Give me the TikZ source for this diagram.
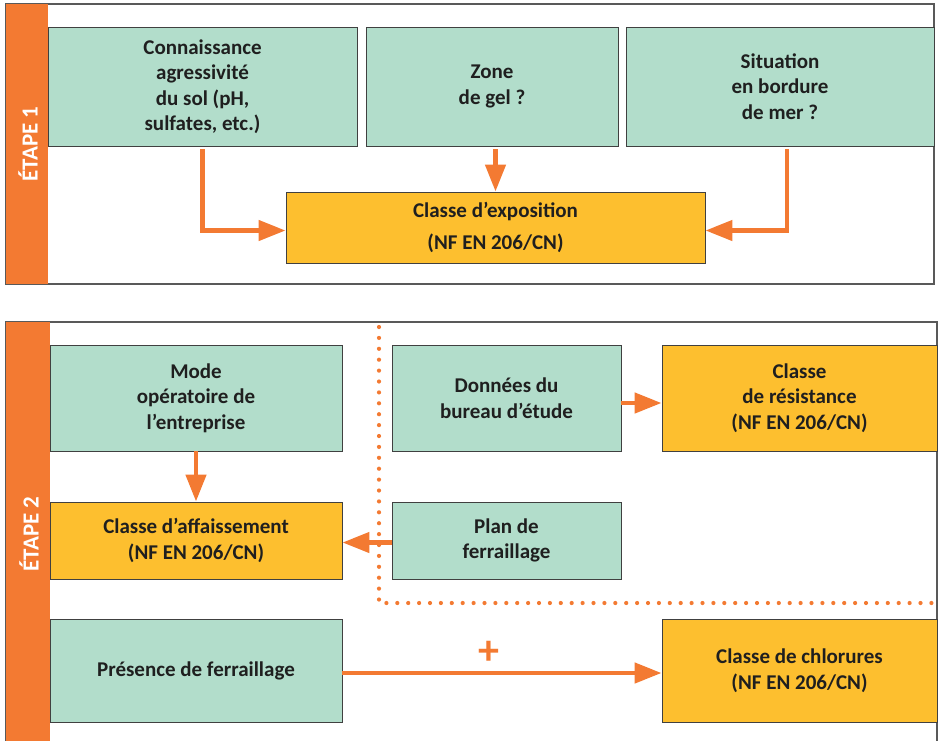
\documentclass[tikz,border=0pt]{standalone}
\usepackage{fontspec}
\setmainfont{Carlito}
\usetikzlibrary{arrows.meta}
\definecolor{orangeb}{HTML}{F37A32}
\definecolor{vertclair}{HTML}{B2DDCB}
\definecolor{jaune}{HTML}{FDBF2F}
\tikzstyle{cadre} = [draw=black!65, line width=1.3pt]
\tikzstyle{donnee} = [rectangle, draw=black!75, line width=0.9pt, fill=vertclair, align=center, text=black!88, inner sep=0pt, font=\bfseries\fontsize{21}{25.5}\selectfont]
\tikzstyle{classe} = [donnee, fill=jaune]
\tikzstyle{etape} = [rotate=90, text=white, font=\bfseries\fontsize{23}{24}\selectfont]
\tikzstyle{fleche} = [draw=orangeb, line width=4.6pt, -{Triangle[length=27pt,width=20pt]}]

\begin{document}
\begin{tikzpicture}[x=1pt, y=-1pt]
	\useasboundingbox (0,0) rectangle (940,740);
	% etape 1
	\draw[cadre] (6,4) rectangle (934,284);
	\fill[orangeb] (6,4) rectangle (48,284);
	\node(etape1) [etape] at (28,144) {ÉTAPE 1};
	
	\node(sol) [donnee, minimum width=309pt, minimum height=119pt] at (202.5,86.5) {Connaissance\\agressivité\\du sol (pH,\\sulfates, etc.)};
	\node(gel) [donnee, minimum width=252pt, minimum height=119pt] at (492,86.5) {Zone\\de gel ?};
	\node(mer) [donnee, minimum width=308pt, minimum height=119pt] at (780,86.5) {Situation\\en bordure\\de mer ?};
	\node(expo) [classe, minimum width=419pt, minimum height=71pt] at (495.5,227.5) {Classe d’exposition\\[7pt](NF EN 206/CN)};
	
	\draw[fleche, shorten <=3pt] (sol.south) |- ([yshift=-3pt]expo.west);
	\draw[fleche, shorten <=3pt] (gel.south -| expo.north) -- (expo.north);
	\draw[fleche, shorten <=3pt] ([xshift=7pt]mer.south) |- ([yshift=-3pt]expo.east);
	
	% etape 2
	\draw[cadre] (6,322) rectangle (937,760);
	\fill[orangeb] (6,322) rectangle (50,760);
	\node(etape2) [etape] at (29,534) {ÉTAPE 2};
	
	\draw[orangeb, line width=4.2pt, line cap=round, dash pattern=on 0pt off 10.9pt] (379,327) -- (379,603) -- (940,603);
	
	\node(mode) [donnee, minimum width=292pt, minimum height=106pt] at (196,398) {Mode\\opératoire de\\l’entreprise};
	\node(affaiss) [classe, minimum width=292pt, minimum height=77pt] at (196,540.5) {Classe d’affaissement\\(NF EN 206/CN)};
	\node(presence) [donnee, minimum width=292pt, minimum height=103pt] at (196,670.5) {Présence de ferraillage};
	\node(bureau) [donnee, minimum width=229pt, minimum height=106pt] at (506.5,398) {Données du\\bureau d’étude};
	\node(plan) [donnee, minimum width=229pt, minimum height=77pt] at (506.5,540.5) {Plan de\\ferraillage};
	\node(resist) [classe, minimum width=275pt, minimum height=106pt] at (799.5,398) {Classe\\de résistance\\(NF EN 206/CN)};
	\node(chlore) [classe, minimum width=275pt, minimum height=103pt] at (799.5,670.5) {Classe de chlorures\\(NF EN 206/CN)};
	
	\draw[fleche] (mode) -- (affaiss);
	\draw[fleche] ([yshift=-2pt]plan.west) -- ([yshift=-2pt]affaiss.east);
	\draw[fleche] ([yshift=-5pt]bureau.east) -- ([yshift=-5pt]resist.west);
	\draw[fleche] ([yshift=-2.5pt]presence.east) -- node[pos=0.46, above=3pt, text=orangeb, font=\bfseries\fontsize{42}{42}\selectfont] {+} ([yshift=-2.5pt]chlore.west);
\end{tikzpicture}
\end{document}
